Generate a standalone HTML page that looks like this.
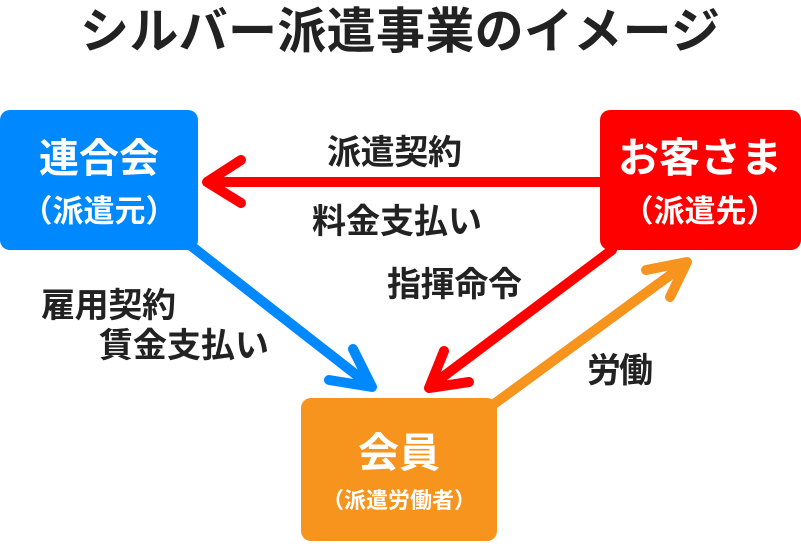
<!DOCTYPE html>
<html><head><meta charset="utf-8"><style>
body{margin:0;width:801px;height:545px;background:#fff;overflow:hidden;font-family:"Liberation Sans","Noto Sans CJK JP",sans-serif}
</style></head><body>
<svg width="801" height="545" viewBox="0 0 801 545" xmlns="http://www.w3.org/2000/svg" font-family="Liberation Sans, Noto Sans CJK JP, sans-serif">
<text x="400" y="48" text-anchor="middle" font-size="49" font-weight="bold" fill="#222" textLength="640">シルバー派遣事業のイメージ</text>
<rect x="0" y="110" width="198" height="140" rx="10" fill="#0088ff"/>
<rect x="600" y="110" width="201" height="140" rx="10" fill="#ff0000"/>
<rect x="301" y="398" width="196" height="143" rx="10" fill="#f7941e"/>
<text x="99" y="172" text-anchor="middle" font-size="40" font-weight="bold" fill="#fff">連合会</text>
<text x="99" y="222" text-anchor="middle" font-size="31" font-weight="bold" fill="#fff">（派遣元）</text>
<text x="700" y="172" text-anchor="middle" font-size="41" font-weight="bold" fill="#fff">お客さま</text>
<text x="700" y="222" text-anchor="middle" font-size="31" font-weight="bold" fill="#fff">（派遣先）</text>
<text x="399" y="467" text-anchor="middle" font-size="41" font-weight="bold" fill="#fff">会員</text>
<text x="399" y="508" text-anchor="middle" font-size="22" font-weight="bold" fill="#fff">（派遣労働者）</text>
<g fill="none" stroke-width="10" stroke-linecap="round" stroke-linejoin="round">
<line x1="600" y1="182" x2="210" y2="182" stroke="#ff0000"/>
<polyline points="241,160 207,182 241,203" stroke="#ff0000"/>
<line x1="190" y1="245" x2="368" y2="384" stroke="#0088ff"/>
<polyline points="353,349 372,387 329,380" stroke="#0088ff"/>
<line x1="612" y1="250" x2="432" y2="385" stroke="#ff0000"/>
<polyline points="444,351 429,388 469,382" stroke="#ff0000"/>
<line x1="494" y1="404" x2="684" y2="265" stroke="#f7941e"/>
<polyline points="670,297 687,262 646,270" stroke="#f7941e"/>
</g>
<g font-size="34" font-weight="bold" fill="#222">
<text x="327" y="164" textLength="135">派遣契約</text>
<text x="312" y="233" textLength="170">料金支払い</text>
<text x="387" y="296" textLength="135">指揮命令</text>
<text x="41" y="317" textLength="135">雇用契約</text>
<text x="99" y="357" textLength="170">賃金支払い</text>
<text x="587" y="382" textLength="66">労働</text>
</g>
</svg>
</body></html>
